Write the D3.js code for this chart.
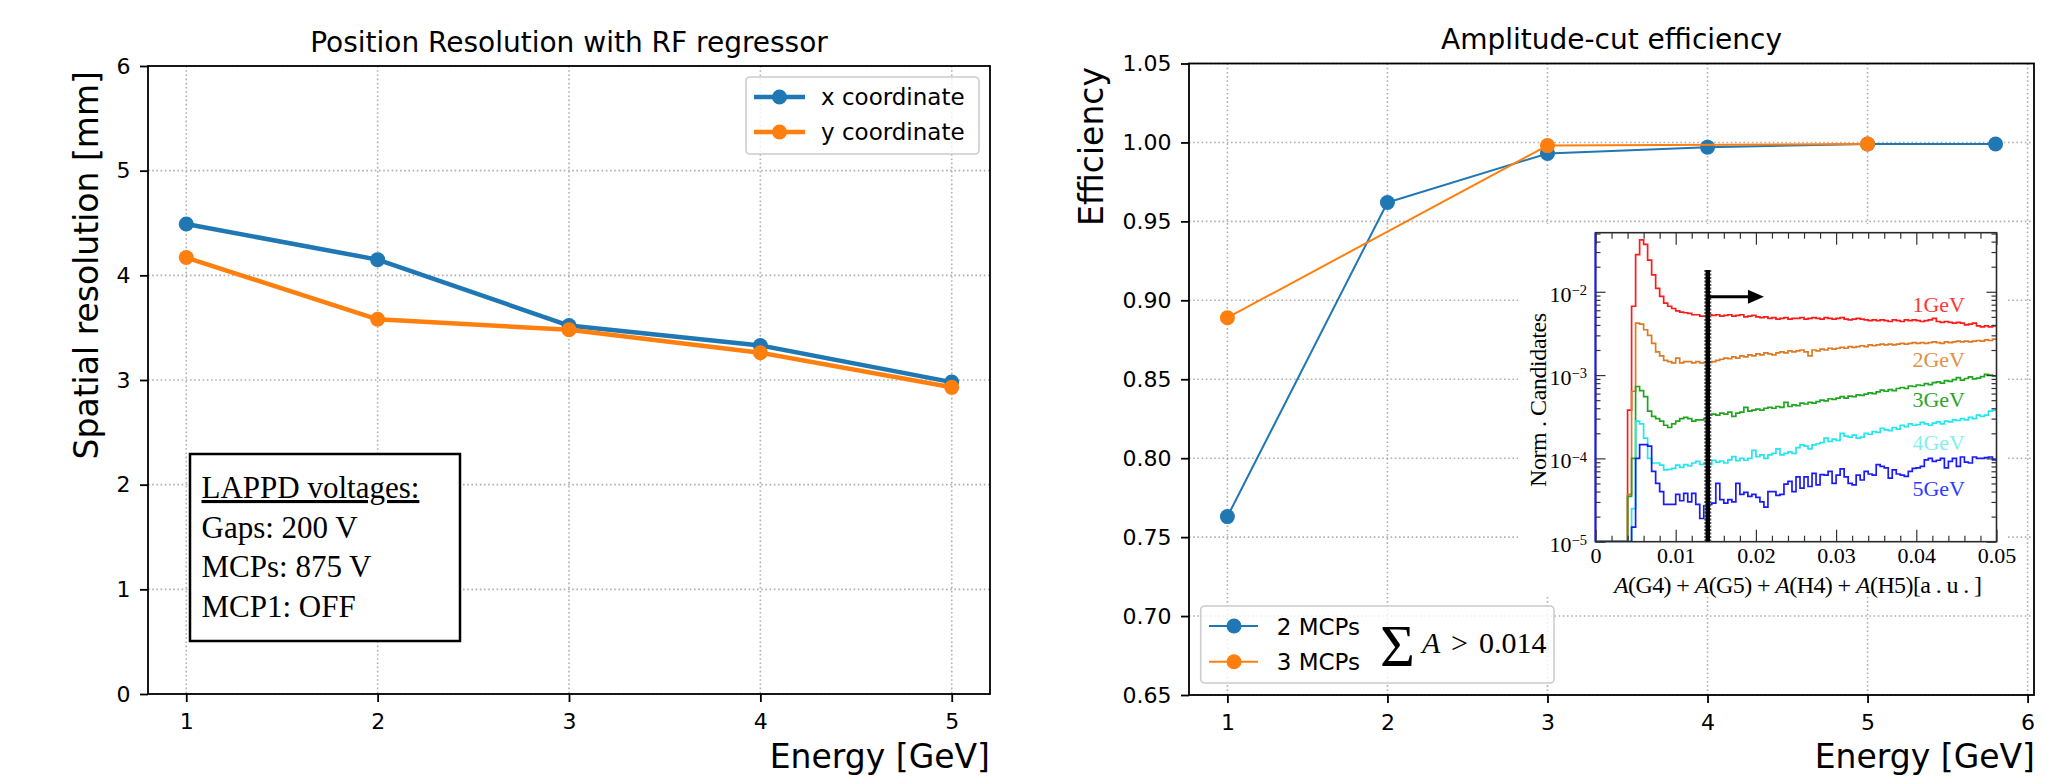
<!DOCTYPE html>
<html><head><meta charset="utf-8">
<script src="https://cdn.jsdelivr.net/npm/d3@7/dist/d3.min.js"></script>
<style>body{margin:0;background:#fff}svg{display:block}</style>
</head><body>
<svg id="c" width="2046" height="776"></svg>
<script>
// ---------------- data: left panel ----------------
const resEnergy = [1, 2, 3, 4, 5];
const resX = [4.49, 4.15, 3.52, 3.33, 2.98];
const resY = [4.17, 3.58, 3.48, 3.26, 2.93];
const resYTicks = [0, 1, 2, 3, 4, 5, 6];
const resXTicks = [1, 2, 3, 4, 5];
const resSeriesNames = ["x coordinate", "y coordinate"];
const lappdLines = ["LAPPD voltages:", "Gaps: 200 V", "MCPs: 875 V", "MCP1: OFF"];

// ---------------- data: right panel ----------------
const eff2Energy = [1, 2, 3, 4, 5, 5.8];
const eff2 = [0.763, 0.962, 0.993, 0.997, 0.999, 0.999];
const eff3Energy = [1, 3, 5];
const eff3 = [0.889, 0.998, 0.999];
const effYTicks = [0.65, 0.70, 0.75, 0.80, 0.85, 0.90, 0.95, 1.00, 1.05];
const effXTicks = [1, 2, 3, 4, 5, 6];
const effSeriesNames = ["2 MCPs", "3 MCPs"];
const cutValue = 0.014;

// ---------------- data: inset histograms (100 bins, 0 .. 0.05) ----------------
const histRange = [0, 0.05];
const histBinWidth = 0.0005;
const hist1GeV = [0,0,0,0,0,0,0,0,3.8e-4,6.7e-3,2.8e-2,4.2e-2,3.7e-2,2.4e-2,1.6e-2,1.1e-2,8.8e-3,7.3e-3,6.7e-3,6.3e-3,
 5.9e-3,5.7e-3,5.6e-3,5.5e-3,5.3e-3,5.3e-3,5.1e-3,5.1e-3,
 5.3e-3,5.2e-3,5.3e-3,5.1e-3,5.2e-3,5.3e-3,5.1e-3,5.2e-3,5.3e-3,5.0e-3,
 5.1e-3,5.2e-3,5.0e-3,4.9e-3,5.0e-3,4.8e-3,4.9e-3,4.7e-3,4.8e-3,4.9e-3,
 4.7e-3,4.8e-3,4.8e-3,4.9e-3,4.7e-3,4.8e-3,4.9e-3,4.8e-3,4.7e-3,4.9e-3,
 4.8e-3,4.7e-3,4.8e-3,4.9e-3,4.7e-3,4.6e-3,4.7e-3,4.8e-3,4.7e-3,4.6e-3,
 4.5e-3,4.6e-3,4.5e-3,4.6e-3,4.5e-3,4.4e-3,4.6e-3,4.5e-3,4.4e-3,4.6e-3,
 4.5e-3,4.6e-3,4.5e-3,4.4e-3,4.5e-3,4.6e-3,4.8e-3,4.4e-3,4.3e-3,4.4e-3,
 4.3e-3,4.2e-3,4.3e-3,4.2e-3,4.0e-3,4.1e-3,4.2e-3,3.9e-3,3.8e-3,3.9e-3,3.8e-3,3.9e-3];
const hist2GeV = [0,0,0,0,0,0,0,0,3.7e-5,6.4e-4,4.2e-3,4.1e-3,3.5e-3,3.0e-3,2.4e-3,1.9e-3,1.7e-3,1.5e-3,1.45e-3,1.4e-3,
 1.6e-3,1.4e-3,1.45e-3,1.45e-3,1.4e-3,1.45e-3,1.4e-3,1.42e-3,
 1.42e-3,1.45e-3,1.5e-3,1.55e-3,1.6e-3,1.58e-3,1.65e-3,1.6e-3,1.7e-3,1.65e-3,
 1.75e-3,1.7e-3,1.8e-3,1.75e-3,1.85e-3,1.8e-3,1.75e-3,1.85e-3,1.9e-3,1.85e-3,
 1.95e-3,1.9e-3,1.95e-3,2.0e-3,1.9e-3,1.7e-3,2.0e-3,1.95e-3,2.05e-3,2.0e-3,
 2.1e-3,2.05e-3,2.1e-3,2.15e-3,2.1e-3,2.2e-3,2.15e-3,2.2e-3,2.25e-3,2.2e-3,
 2.3e-3,2.25e-3,2.3e-3,2.35e-3,2.3e-3,2.35e-3,2.3e-3,2.35e-3,2.4e-3,2.35e-3,
 2.4e-3,2.45e-3,2.4e-3,2.45e-3,2.4e-3,2.45e-3,2.5e-3,2.45e-3,2.4e-3,2.5e-3,
 2.45e-3,2.5e-3,2.55e-3,2.5e-3,2.55e-3,2.5e-3,2.55e-3,2.6e-3,2.55e-3,2.65e-3,2.6e-3,2.7e-3];
const hist3GeV = [0,0,0,0,0,0,0,0,3.5e-5,1.0e-4,7.3e-4,6.5e-4,5.5e-4,3.7e-4,3.2e-4,3.0e-4,2.8e-4,2.5e-4,2.35e-4,2.6e-4,
 2.8e-4,3.0e-4,3.1e-4,3.0e-4,2.8e-4,2.9e-4,2.9e-4,3.0e-4,
 3.3e-4,3.4e-4,3.3e-4,3.5e-4,3.4e-4,3.6e-4,3.2e-4,3.5e-4,3.6e-4,4.1e-4,
 3.7e-4,3.8e-4,3.9e-4,3.8e-4,4.0e-4,4.1e-4,4.0e-4,4.2e-4,4.1e-4,4.7e-4,
 4.2e-4,4.4e-4,4.3e-4,4.6e-4,4.5e-4,4.7e-4,4.6e-4,4.8e-4,5.0e-4,4.9e-4,
 5.2e-4,5.1e-4,5.3e-4,5.5e-4,5.3e-4,5.6e-4,5.5e-4,5.8e-4,5.7e-4,5.9e-4,
 6.1e-4,6.0e-4,6.3e-4,6.6e-4,6.4e-4,6.7e-4,6.5e-4,6.9e-4,7.1e-4,6.9e-4,
 7.4e-4,7.3e-4,7.6e-4,7.5e-4,7.9e-4,7.7e-4,8.1e-4,8.3e-4,8.0e-4,8.6e-4,
 8.4e-4,8.8e-4,9.3e-4,8.7e-4,9.1e-4,9.5e-4,9.0e-4,9.2e-4,9.6e-4,1.02e-3,1.0e-3,9.7e-4];
const hist4GeV = [0,0,0,0,0,0,0,0,0,2.5e-5,2.8e-4,2.6e-4,1.75e-4,1.0e-4,8.8e-5,8.8e-5,8.3e-5,7.3e-5,7.4e-5,7.6e-5,
 8.3e-5,7.8e-5,8.4e-5,8.1e-5,8.8e-5,9.2e-5,8.5e-5,8.8e-5,
 8.5e-5,9.5e-5,9.0e-5,9.3e-5,8.8e-5,9.6e-5,1.05e-4,9.4e-5,1.0e-4,9.5e-5,
 1.0e-4,1.25e-4,1.05e-4,1.1e-4,1.0e-4,1.1e-4,1.15e-4,1.3e-4,1.1e-4,1.15e-4,
 1.2e-4,1.15e-4,1.35e-4,1.45e-4,1.4e-4,1.3e-4,1.45e-4,1.5e-4,1.55e-4,1.75e-4,
 1.6e-4,1.7e-4,1.65e-4,2.0e-4,1.85e-4,1.8e-4,1.9e-4,1.75e-4,1.8e-4,2.0e-4,
 1.95e-4,2.1e-4,2.05e-4,2.3e-4,2.2e-4,2.15e-4,2.35e-4,2.25e-4,2.5e-4,2.4e-4,
 2.6e-4,2.5e-4,2.55e-4,2.7e-4,2.6e-4,2.5e-4,2.65e-4,2.75e-4,2.6e-4,2.8e-4,
 2.75e-4,2.9e-4,2.85e-4,3.0e-4,2.9e-4,3.1e-4,3.0e-4,3.3e-4,3.2e-4,3.3e-4,3.7e-4,3.8e-4];
const hist5GeV = [0,0,0,0,0,0,0,0,0,1.5e-5,1.0e-4,1.46e-4,1.46e-4,1.4e-4,7.0e-5,5.0e-5,4.0e-5,2.8e-5,2.8e-5,2.8e-5,
 3.7e-5,3.1e-5,3.8e-5,3.0e-5,3.8e-5,2.8e-5,1.9e-5,2.7e-5,
 2.8e-5,2.9e-5,5.0e-5,3.2e-5,2.9e-5,3.2e-5,3.0e-5,5.0e-5,3.7e-5,3.9e-5,
 3.5e-5,3.7e-5,3.4e-5,3.0e-5,2.6e-5,4.0e-5,4.0e-5,3.6e-5,3.7e-5,4.9e-5,
 5.3e-5,4.0e-5,6.0e-5,4.4e-5,6.0e-5,4.6e-5,6.6e-5,4.8e-5,6.4e-5,6.3e-5,
 7.0e-5,5.0e-5,6.3e-5,7.5e-5,6.0e-5,5.0e-5,4.8e-5,6.3e-5,5.5e-5,7.0e-5,
 6.5e-5,6.3e-5,8.4e-5,8.0e-5,7.7e-5,5.8e-5,7.3e-5,6.5e-5,6.3e-5,6.1e-5,
 7.0e-5,7.6e-5,7.7e-5,8.0e-5,9.6e-5,1.0e-4,9.2e-5,9.5e-5,1.0e-4,7.7e-5,
 9.2e-5,1.0e-4,8.0e-5,1.04e-4,9.0e-5,8.8e-5,1.04e-4,1.0e-4,1.0e-4,1.02e-4,1.04e-4,9.6e-5];
const histSeries = [hist1GeV, hist2GeV, hist3GeV, hist4GeV, hist5GeV];
const histLabels = ["1GeV", "2GeV", "3GeV", "4GeV", "5GeV"];
const histXTicks = [0, 0.01, 0.02, 0.03, 0.04, 0.05];
const histYTicks = [1e-5, 1e-4, 1e-3, 1e-2];
const histYExp = ["−5", "−4", "−3", "−2"];
const arrowLevel = 8.7e-3;
const arrowEnd = 0.021;

// ---------------- styling / layout ----------------
const FONT = "DejaVu Sans", SERIF = "Liberation Serif";
const C_BLUE = "#1f77b4", C_ORANGE = "#ff7f0e";
const histColors = ["#ff1a1a", "#dd7a22", "#1fa51f", "#22e6f0", "#1a1aff"];
const histLabelColors = ["#ff3535", "#e0904a", "#2aa52a", "#80f0f0", "#2a3cff"];
const histLabelY = [311.7, 366.7, 407.3, 450, 496];
const svg = d3.select("#c");

function drawPanel(box, x, y, xTicks, yTicks) {
  const g = svg.append("g");
  const grid = g.append("g").attr("stroke", "#b0b0b0").attr("stroke-width", 1.6).attr("stroke-dasharray", "1.6,2.6");
  grid.selectAll(".v").data(xTicks).join("line").attr("x1", d => x(d)).attr("x2", d => x(d)).attr("y1", box.top).attr("y2", box.bottom);
  grid.selectAll(".h").data(yTicks).join("line").attr("y1", d => y(d)).attr("y2", d => y(d)).attr("x1", box.left).attr("x2", box.right);
  return g;
}
function styleAxis(sel) {
  sel.attr("font-family", FONT).attr("font-size", 22).attr("color", "#000");
  sel.select(".domain").remove();
  sel.selectAll(".tick line").attr("stroke-width", 1.8);
}
function spines(box) {
  svg.append("rect").attr("x", box.left).attr("y", box.top).attr("width", box.right - box.left)
    .attr("height", box.bottom - box.top).attr("fill", "none").attr("stroke", "#000").attr("stroke-width", 1.8);
}
function series(g, x, y, xs, ys, color, lw, r) {
  const pts = xs.map((d, i) => [x(d), y(ys[i])]);
  g.append("path").attr("d", d3.line()(pts)).attr("fill", "none").attr("stroke", color)
    .attr("stroke-width", lw).attr("stroke-linejoin", "round").attr("stroke-linecap", "round");
  g.selectAll(null).data(pts).join("circle").attr("cx", d => d[0]).attr("cy", d => d[1]).attr("r", r).attr("fill", color);
}

// ================= LEFT PANEL =================
const L = {left: 148, right: 990, top: 66, bottom: 694};
const lx = d3.scaleLinear().domain([0.8, 5.2]).range([L.left, L.right]);
const ly = d3.scaleLinear().domain([0, 6]).range([L.bottom, L.top]);
const gl = drawPanel(L, lx, ly, resXTicks, resYTicks);
series(gl, lx, ly, resEnergy, resX, C_BLUE, 4.5, 7.5);
series(gl, lx, ly, resEnergy, resY, C_ORANGE, 4.5, 7.5);
svg.append("g").attr("transform", `translate(0,${L.bottom})`)
  .call(d3.axisBottom(lx).tickValues(resXTicks).tickSize(8).tickPadding(11).tickFormat(d3.format("d"))).call(styleAxis);
svg.append("g").attr("transform", `translate(${L.left},0)`)
  .call(d3.axisLeft(ly).tickValues(resYTicks).tickSize(8).tickPadding(9.5).tickFormat(d3.format("d"))).call(styleAxis);
spines(L);
svg.append("text").attr("x", (L.left + L.right) / 2).attr("y", 51.5).attr("text-anchor", "middle")
  .attr("font-family", FONT).attr("font-size", 28).text("Position Resolution with RF regressor");
svg.append("text").attr("transform", "translate(98,71) rotate(-90)").attr("text-anchor", "end")
  .attr("font-family", FONT).attr("font-size", 33).text("Spatial resolution [mm]");
svg.append("text").attr("x", L.right).attr("y", 768).attr("text-anchor", "end")
  .attr("font-family", FONT).attr("font-size", 33).text("Energy [GeV]");

// legend (left)
{
  const lg = svg.append("g");
  lg.append("rect").attr("x", 746).attr("y", 77).attr("width", 233).attr("height", 77).attr("rx", 4)
    .attr("fill", "#fff").attr("fill-opacity", 0.8).attr("stroke", "#cccccc").attr("stroke-width", 1.6);
  [C_BLUE, C_ORANGE].forEach((c, i) => {
    const yy = 97 + i * 35;
    lg.append("line").attr("x1", 754).attr("x2", 805).attr("y1", yy).attr("y2", yy).attr("stroke", c).attr("stroke-width", 4.5);
    lg.append("circle").attr("cx", 779.5).attr("cy", yy).attr("r", 7.5).attr("fill", c);
    lg.append("text").attr("x", 821).attr("y", yy + 8).attr("font-family", FONT).attr("font-size", 23).text(resSeriesNames[i]);
  });
}
// LAPPD box
{
  const bg = svg.append("g");
  bg.append("rect").attr("x", 190).attr("y", 454).attr("width", 270).attr("height", 187)
    .attr("fill", "#fff").attr("stroke", "#000").attr("stroke-width", 2.5);
  lappdLines.forEach((t, i) => {
    bg.append("text").attr("x", 201.5).attr("y", 498 + i * 39.7).attr("font-family", SERIF).attr("font-size", 31)
      .style("text-decoration", i === 0 ? "underline" : "none").text(t);
  });
}

// ================= RIGHT PANEL =================
const R = {left: 1189, right: 2034, top: 63.5, bottom: 695};
const rx = d3.scaleLinear().domain([0.76, 6.04]).range([R.left, R.right]);
const ry = d3.scaleLinear().domain([0.65, 1.05]).range([R.bottom, R.top]);
const gr = drawPanel(R, rx, ry, effXTicks, effYTicks);
series(gr, rx, ry, eff2Energy, eff2, C_BLUE, 2, 7.5);
series(gr, rx, ry, eff3Energy, eff3, C_ORANGE, 2, 7.5);
svg.append("g").attr("transform", `translate(0,${R.bottom})`)
  .call(d3.axisBottom(rx).tickValues(effXTicks).tickSize(8).tickPadding(11).tickFormat(d3.format("d"))).call(styleAxis);
svg.append("g").attr("transform", `translate(${R.left},0)`)
  .call(d3.axisLeft(ry).tickValues(effYTicks).tickSize(8).tickPadding(9.5).tickFormat(d3.format(".2f"))).call(styleAxis);
svg.append("text").attr("x", (R.left + R.right) / 2).attr("y", 49).attr("text-anchor", "middle")
  .attr("font-family", FONT).attr("font-size", 28).text("Amplitude-cut efficiency");
svg.append("text").attr("transform", "translate(1103,67) rotate(-90)").attr("text-anchor", "end")
  .attr("font-family", FONT).attr("font-size", 33).text("Efficiency");
svg.append("text").attr("x", 2035).attr("y", 768).attr("text-anchor", "end")
  .attr("font-family", FONT).attr("font-size", 33).text("Energy [GeV]");

// ---------------- inset ----------------
{
  const ig = svg.append("g");
  ig.append("rect").attr("x", 1518).attr("y", 224).attr("width", 489).attr("height", 372).attr("fill", "#fff");
  const F = {left: 1595.5, right: 1996.5, top: 232.7, bottom: 541.7};
  const ix = d3.scaleLinear().domain(histRange).range([F.left, F.right]);
  const iy = d3.scaleLog().domain([1e-5, 0.0512]).range([F.bottom, F.top]);
  const clampV = v => Math.max(v, 1e-5);
  ig.append("clipPath").attr("id", "iclip").append("rect")
    .attr("x", F.left).attr("y", F.top).attr("width", F.right - F.left).attr("height", F.bottom - F.top);
  const step = d3.line().curve(d3.curveStepAfter);
  const hg = ig.append("g").attr("clip-path", "url(#iclip)");
  histSeries.forEach((vals, s) => {
    const pts = vals.map((v, i) => [ix(i * histBinWidth), iy(clampV(v))]);
    pts.push([ix(vals.length * histBinWidth), iy(clampV(vals[vals.length - 1]))]);
    hg.append("path").attr("d", step(pts)).attr("fill", "none").attr("stroke", histColors[s]).attr("stroke-width", 1.7);
  });
  // frame
  ig.append("rect").attr("x", F.left).attr("y", F.top).attr("width", F.right - F.left).attr("height", F.bottom - F.top)
    .attr("fill", "none").attr("stroke", "#2a2a2a").attr("stroke-width", 1.6);
  ig.append("line").attr("x1", F.left).attr("x2", F.left).attr("y1", F.top).attr("y2", F.bottom)
    .attr("stroke", histColors[4]).attr("stroke-width", 2);
  // ticks
  const minorX = d3.range(1, 25).map(i => i * 0.002).filter(v => Math.abs(v * 100 - Math.round(v * 100)) > 1e-6);
  const minorY = [];
  histYTicks.forEach(d => { for (let k = 2; k <= 9; k++) { const v = d * k; if (v <= 0.0512) minorY.push(v); } });
  const tstyle = s => { s.select(".domain").remove(); s.attr("color", "#333").selectAll(".tick line").attr("stroke-width", 1.2); };
  ig.append("g").attr("transform", `translate(0,${F.bottom})`)
    .call(d3.axisBottom(ix).tickValues(histXTicks).tickSize(-12).tickPadding(6).tickFormat(d => d === 0 ? "0" : d3.format(".2f")(d)))
    .call(tstyle).call(s => s.attr("font-family", SERIF).attr("font-size", 22).attr("color", "#000").selectAll(".tick line").attr("stroke", "#333"));
  ig.append("g").attr("transform", `translate(0,${F.bottom})`).call(d3.axisBottom(ix).tickValues(minorX).tickSize(-6).tickFormat("")).call(tstyle);
  ig.append("g").attr("transform", `translate(0,${F.top})`).call(d3.axisTop(ix).tickValues(histXTicks).tickSize(-12).tickFormat("")).call(tstyle);
  ig.append("g").attr("transform", `translate(0,${F.top})`).call(d3.axisTop(ix).tickValues(minorX).tickSize(-6).tickFormat("")).call(tstyle);
  ig.append("g").attr("transform", `translate(${F.left},0)`).call(d3.axisLeft(iy).tickValues(histYTicks).tickSize(-10).tickFormat("")).call(tstyle);
  ig.append("g").attr("transform", `translate(${F.left},0)`).call(d3.axisLeft(iy).tickValues(minorY).tickSize(-5).tickFormat("")).call(tstyle);
  ig.append("g").attr("transform", `translate(${F.right},0)`).call(d3.axisRight(iy).tickValues(histYTicks).tickSize(-10).tickFormat("")).call(tstyle);
  ig.append("g").attr("transform", `translate(${F.right},0)`).call(d3.axisRight(iy).tickValues(minorY).tickSize(-5).tickFormat("")).call(tstyle);
  // log labels 10^-n
  histYTicks.forEach((d, i) => {
    const t = ig.append("text").attr("x", F.left - 8.5).attr("y", iy(d) + 10).attr("text-anchor", "end")
      .attr("font-family", SERIF).attr("font-size", 22);
    t.append("tspan").text("10");
    t.append("tspan").attr("font-size", 14.5).attr("dy", -6.7).text(histYExp[i]);
  });
  // axis titles
  ig.append("text").attr("transform", "translate(1546,400) rotate(-90)").attr("text-anchor", "middle")
    .attr("font-family", SERIF).attr("font-size", 24).attr("textLength", 174).attr("lengthAdjust", "spacing")
    .text("Norm . Candidates");
  const xt = ig.append("text").attr("x", 1614).attr("y", 593).attr("font-family", SERIF).attr("font-size", 24)
    .attr("textLength", 368).attr("lengthAdjust", "spacing");
  [["A", true], ["(G4) + ", false], ["A", true], ["(G5) + ", false], ["A", true], ["(H4) + ", false], ["A", true], ["(H5)[a . u . ]", false]]
    .forEach(([s, it]) => xt.append("tspan").attr("font-style", it ? "italic" : "normal").text(s));
  // energy labels
  histLabels.forEach((t, i) => {
    ig.append("text").attr("x", 1965).attr("y", histLabelY[i]).attr("text-anchor", "end")
      .attr("font-family", SERIF).attr("font-size", 22).attr("fill", histLabelColors[i]).text(t);
  });
  // cut line and arrow
  ig.append("line").attr("x1", ix(cutValue)).attr("x2", ix(cutValue)).attr("y1", 270).attr("y2", F.bottom)
    .attr("stroke", "#555").attr("stroke-width", 7).attr("stroke-dasharray", "2,1.5");
  ig.append("line").attr("x1", ix(cutValue)).attr("x2", ix(cutValue)).attr("y1", 270).attr("y2", F.bottom)
    .attr("stroke", "#000").attr("stroke-width", 4.5);
  const ay = iy(arrowLevel), ax0 = ix(cutValue), ax1 = ix(arrowEnd);
  ig.append("line").attr("x1", ax0).attr("x2", ax1 - 14).attr("y1", ay).attr("y2", ay).attr("stroke", "#000").attr("stroke-width", 3);
  ig.append("path").attr("d", `M${ax1 - 16},${ay - 7}L${ax1},${ay}L${ax1 - 16},${ay + 7}Z`).attr("fill", "#000");
}

// legend (right)
{
  const lg = svg.append("g");
  lg.append("rect").attr("x", 1200.7).attr("y", 606).attr("width", 353.3).attr("height", 77).attr("rx", 4)
    .attr("fill", "#fff").attr("fill-opacity", 0.8).attr("stroke", "#cccccc").attr("stroke-width", 1.6);
  [C_BLUE, C_ORANGE].forEach((c, i) => {
    const yy = 626 + i * 35.7;
    lg.append("line").attr("x1", 1209).attr("x2", 1258).attr("y1", yy).attr("y2", yy).attr("stroke", c).attr("stroke-width", 2);
    lg.append("circle").attr("cx", 1234).attr("cy", yy).attr("r", 7.5).attr("fill", c);
    lg.append("text").attr("x", 1276.7).attr("y", yy + 8.5).attr("font-family", FONT).attr("font-size", 23).text(effSeriesNames[i]);
  });
  lg.append("text").attr("x", 1380).attr("y", 666).attr("font-family", SERIF).attr("font-size", 60).text("Σ");
  lg.append("text").attr("x", 1422).attr("y", 653.3).attr("font-family", SERIF).attr("font-size", 30).attr("font-style", "italic").text("A");
  lg.append("text").attr("x", 1451).attr("y", 653.3).attr("font-family", SERIF).attr("font-size", 30).text(">");
  lg.append("text").attr("x", 1479).attr("y", 653.3).attr("font-family", SERIF).attr("font-size", 30).text(d3.format(".3f")(cutValue));
}
spines(R);
</script>
</body></html>
